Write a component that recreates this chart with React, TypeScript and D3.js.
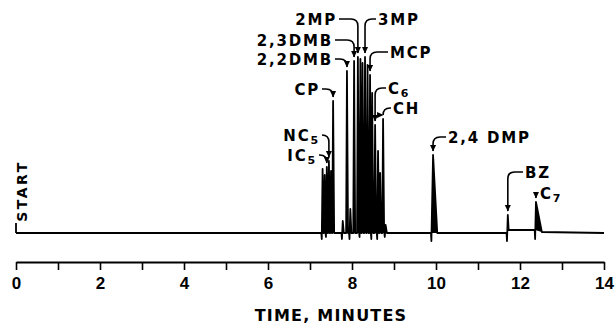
import * as d3 from "d3";
import { useRef, useEffect } from "react";

// gas chromatogram: retention time (min) and peak height (% of full scale)
const peakTimes = [7.30, 7.35, 7.40, 7.45, 7.50, 7.55, 7.78, 7.88, 7.96, 8.05, 8.14, 8.20, 8.25, 8.31, 8.37, 8.43, 8.48, 8.55, 8.62, 8.67, 8.74, 8.80, 9.93, 11.71, 12.38];
const peakHeights = [32, 29, 33, 36, 31, 66, 6, 81, 12, 86, 88, 87, 85, 88, 84, 79, 70, 54, 41, 30, 57, 4, 39, 9, 15.5];
const peakRise = [0.02, 0.02, 0.02, 0.02, 0.02, 0.02, 0.02, 0.02, 0.02, 0.02, 0.02, 0.02, 0.02, 0.02, 0.02, 0.02, 0.02, 0.02, 0.02, 0.02, 0.02, 0.02, 0.04, 0.02, 0.02];
const peakFall = [0.025, 0.025, 0.025, 0.025, 0.025, 0.025, 0.025, 0.025, 0.025, 0.025, 0.025, 0.025, 0.025, 0.025, 0.025, 0.025, 0.025, 0.025, 0.025, 0.025, 0.025, 0.03, 0.1, 0.02, 0.14];
// dip below the baseline at the foot of each peak, and the level each peak returns to
const peakDip = [-3, 0, -2, 0, 0, 0, -3, 0, -3, 0, 0, -2, 0, 0, 0, 0, -3, 0, -3, 0, 0, -2, -4, -4, -3];
const peakEndLevel = [0, 0, 0, 0, 0, 0, 0, 0, 0, 0, 0, 0, 0, 0, 0, 0, 0, 0, 0, 0, 0, 0, 0, 1.5, 0.5];
const runStart = 0;
const runEnd = 14;
const startMarkLevel = 5;

// component labels and the peak (retention time) each one points to
const labelMain = ["2MP", "3MP", "2,3DMB", "2,2DMB", "MCP", "CP", "C", "CH", "NC", "IC", "2,4 DMP", "BZ", "C"];
const labelSub = ["", "", "", "", "", "", "6", "", "5", "5", "", "", "7"];
const labelPeak = [8.14, 8.31, 8.05, 7.88, 8.43, 7.55, 8.55, 8.74, 7.45, 7.40, 9.93, 11.71, 12.38];

const minuteTicks = [0, 1, 2, 3, 4, 5, 6, 7, 8, 9, 10, 11, 12, 13, 14];
const minuteLabels = ["0", "", "2", "", "4", "", "6", "", "8", "", "10", "", "12", "", "14"];

// label anchor: x of text edge nearest the peak, y of text centre, side of the peak
const labelLayout = [
  { x: 337, y: 19, side: "left" },
  { x: 378, y: 19, side: "right" },
  { x: 333, y: 40, side: "left" },
  { x: 333, y: 59, side: "left" },
  { x: 390, y: 52, side: "right" },
  { x: 320, y: 89, side: "left" },
  { x: 388, y: 88, side: "right" },
  { x: 393, y: 108, side: "right" },
  { x: 320, y: 135, side: "left" },
  { x: 317, y: 155, side: "left" },
  { x: 448, y: 137, side: "right" },
  { x: 525, y: 172, side: "right" },
  { x: 540, y: 193, side: "right" },
];

const font = "'DejaVu Sans', Arial, sans-serif";

export default function App() {
  const width = 615;
  const height = 324;
  const gx = useRef<SVGGElement>(null);

  const x = d3.scaleLinear([0, 14], [16, 604]);
  const y = d3.scaleLinear([0, 100], [233, 33]);

  // trace vertices built from the peak table
  const pts: [number, number][] = [[runStart, 0]];
  const shapes: [number, number][][] = [];
  let base = 0;
  peakTimes.forEach((t, i) => {
    pts.push([t - peakRise[i] - 0.01, base]);
    pts.push([t - peakRise[i], peakDip[i]]);
    pts.push([t, peakHeights[i]]);
    pts.push([t + peakFall[i], peakEndLevel[i]]);
    shapes.push([
      [t - peakRise[i], base],
      [t, peakHeights[i]],
      [t + peakFall[i], peakEndLevel[i]],
    ]);
    base = peakEndLevel[i];
  });
  pts.push([runEnd, 0]);
  const line = d3.line<[number, number]>((d) => x(d[0]), (d) => y(d[1]));

  useEffect(() => {
    const g = d3.select(gx.current!);
    g.call(
      d3.axisBottom(x)
        .tickValues(minuteTicks)
        .tickFormat((d, i) => minuteLabels[i])
        .tickSize(8)
        .tickSizeOuter(0)
        .tickPadding(7)
    );
    g.select(".domain").attr("stroke-width", 2);
    g.selectAll(".tick line").attr("stroke-width", 1.6);
    g.selectAll(".tick text")
      .attr("font-size", 17)
      .attr("font-family", "'Liberation Sans', Arial, sans-serif")
      .attr("font-weight", "bold")
      .attr("fill", "#000");
  }, [x]);

  const leader = (i: number) => {
    const L = labelLayout[i];
    const pi = peakTimes.indexOf(labelPeak[i]);
    const tx = x(labelPeak[i]);
    const ty = y(peakHeights[pi]) - 4;
    const dir = L.side === "left" ? 1 : -1;
    const sx = L.x + dir * 2;
    const cy = L.y;
    const r = Math.max(1, Math.min(7, Math.abs(tx - sx), ty - cy));
    return `M${sx},${cy} L${tx - dir * r},${cy} Q${tx},${cy} ${tx},${cy + r} L${tx},${ty}`;
  };

  return (
    <svg width={width} height={height} style={{ position: "absolute", left: 0, top: 0, background: "#fff" }}>
      <defs>
        <marker id="arrow" markerUnits="userSpaceOnUse" markerWidth="7" markerHeight="7" refX="6" refY="3.5" orient="auto">
          <path d="M0,0.5 L6.5,3.5 L0,6.5 z" fill="#000" />
        </marker>
      </defs>

      {/* START mark */}
      <line x1={x(runStart)} x2={x(runStart)} y1={y(0)} y2={y(startMarkLevel)} stroke="#000" strokeWidth="1.8" />
      <text
        transform={`translate(${x(runStart) + 11},191) rotate(-90)`}
        textAnchor="middle"
        fontFamily={font}
        fontWeight="bold"
        fontSize="14"
        letterSpacing="2.5"
      >
        START
      </text>

      {/* chromatogram trace */}
      {shapes.map((s, i) => (
        <path key={i} d={line(s)! + "Z"} fill="#000" />
      ))}
      <path d={line(pts)!} fill="none" stroke="#000" strokeWidth="1.8" strokeLinejoin="round" />

      {/* labels with leaders */}
      {labelMain.map((m, i) => (
        <g key={i}>
          <path d={leader(i)} fill="none" stroke="#000" strokeWidth="1.6" markerEnd="url(#arrow)" />
          <text
            x={labelLayout[i].x}
            y={labelLayout[i].y + 5.5}
            textAnchor={labelLayout[i].side === "left" ? "end" : "start"}
            fontFamily={font}
            fontWeight="bold"
            fontSize="15"
            letterSpacing="1.8"
          >
            {m}
            {labelSub[i] && (
              <tspan fontSize="11" dy="3">
                {labelSub[i]}
              </tspan>
            )}
          </text>
        </g>
      ))}

      {/* time axis */}
      <g ref={gx} transform="translate(0,262)" />
      <text x={331} y={321} textAnchor="middle" fontFamily={font} fontWeight="bold" fontSize="16" letterSpacing="1.2">
        TIME, MINUTES
      </text>
    </svg>
  );
}
